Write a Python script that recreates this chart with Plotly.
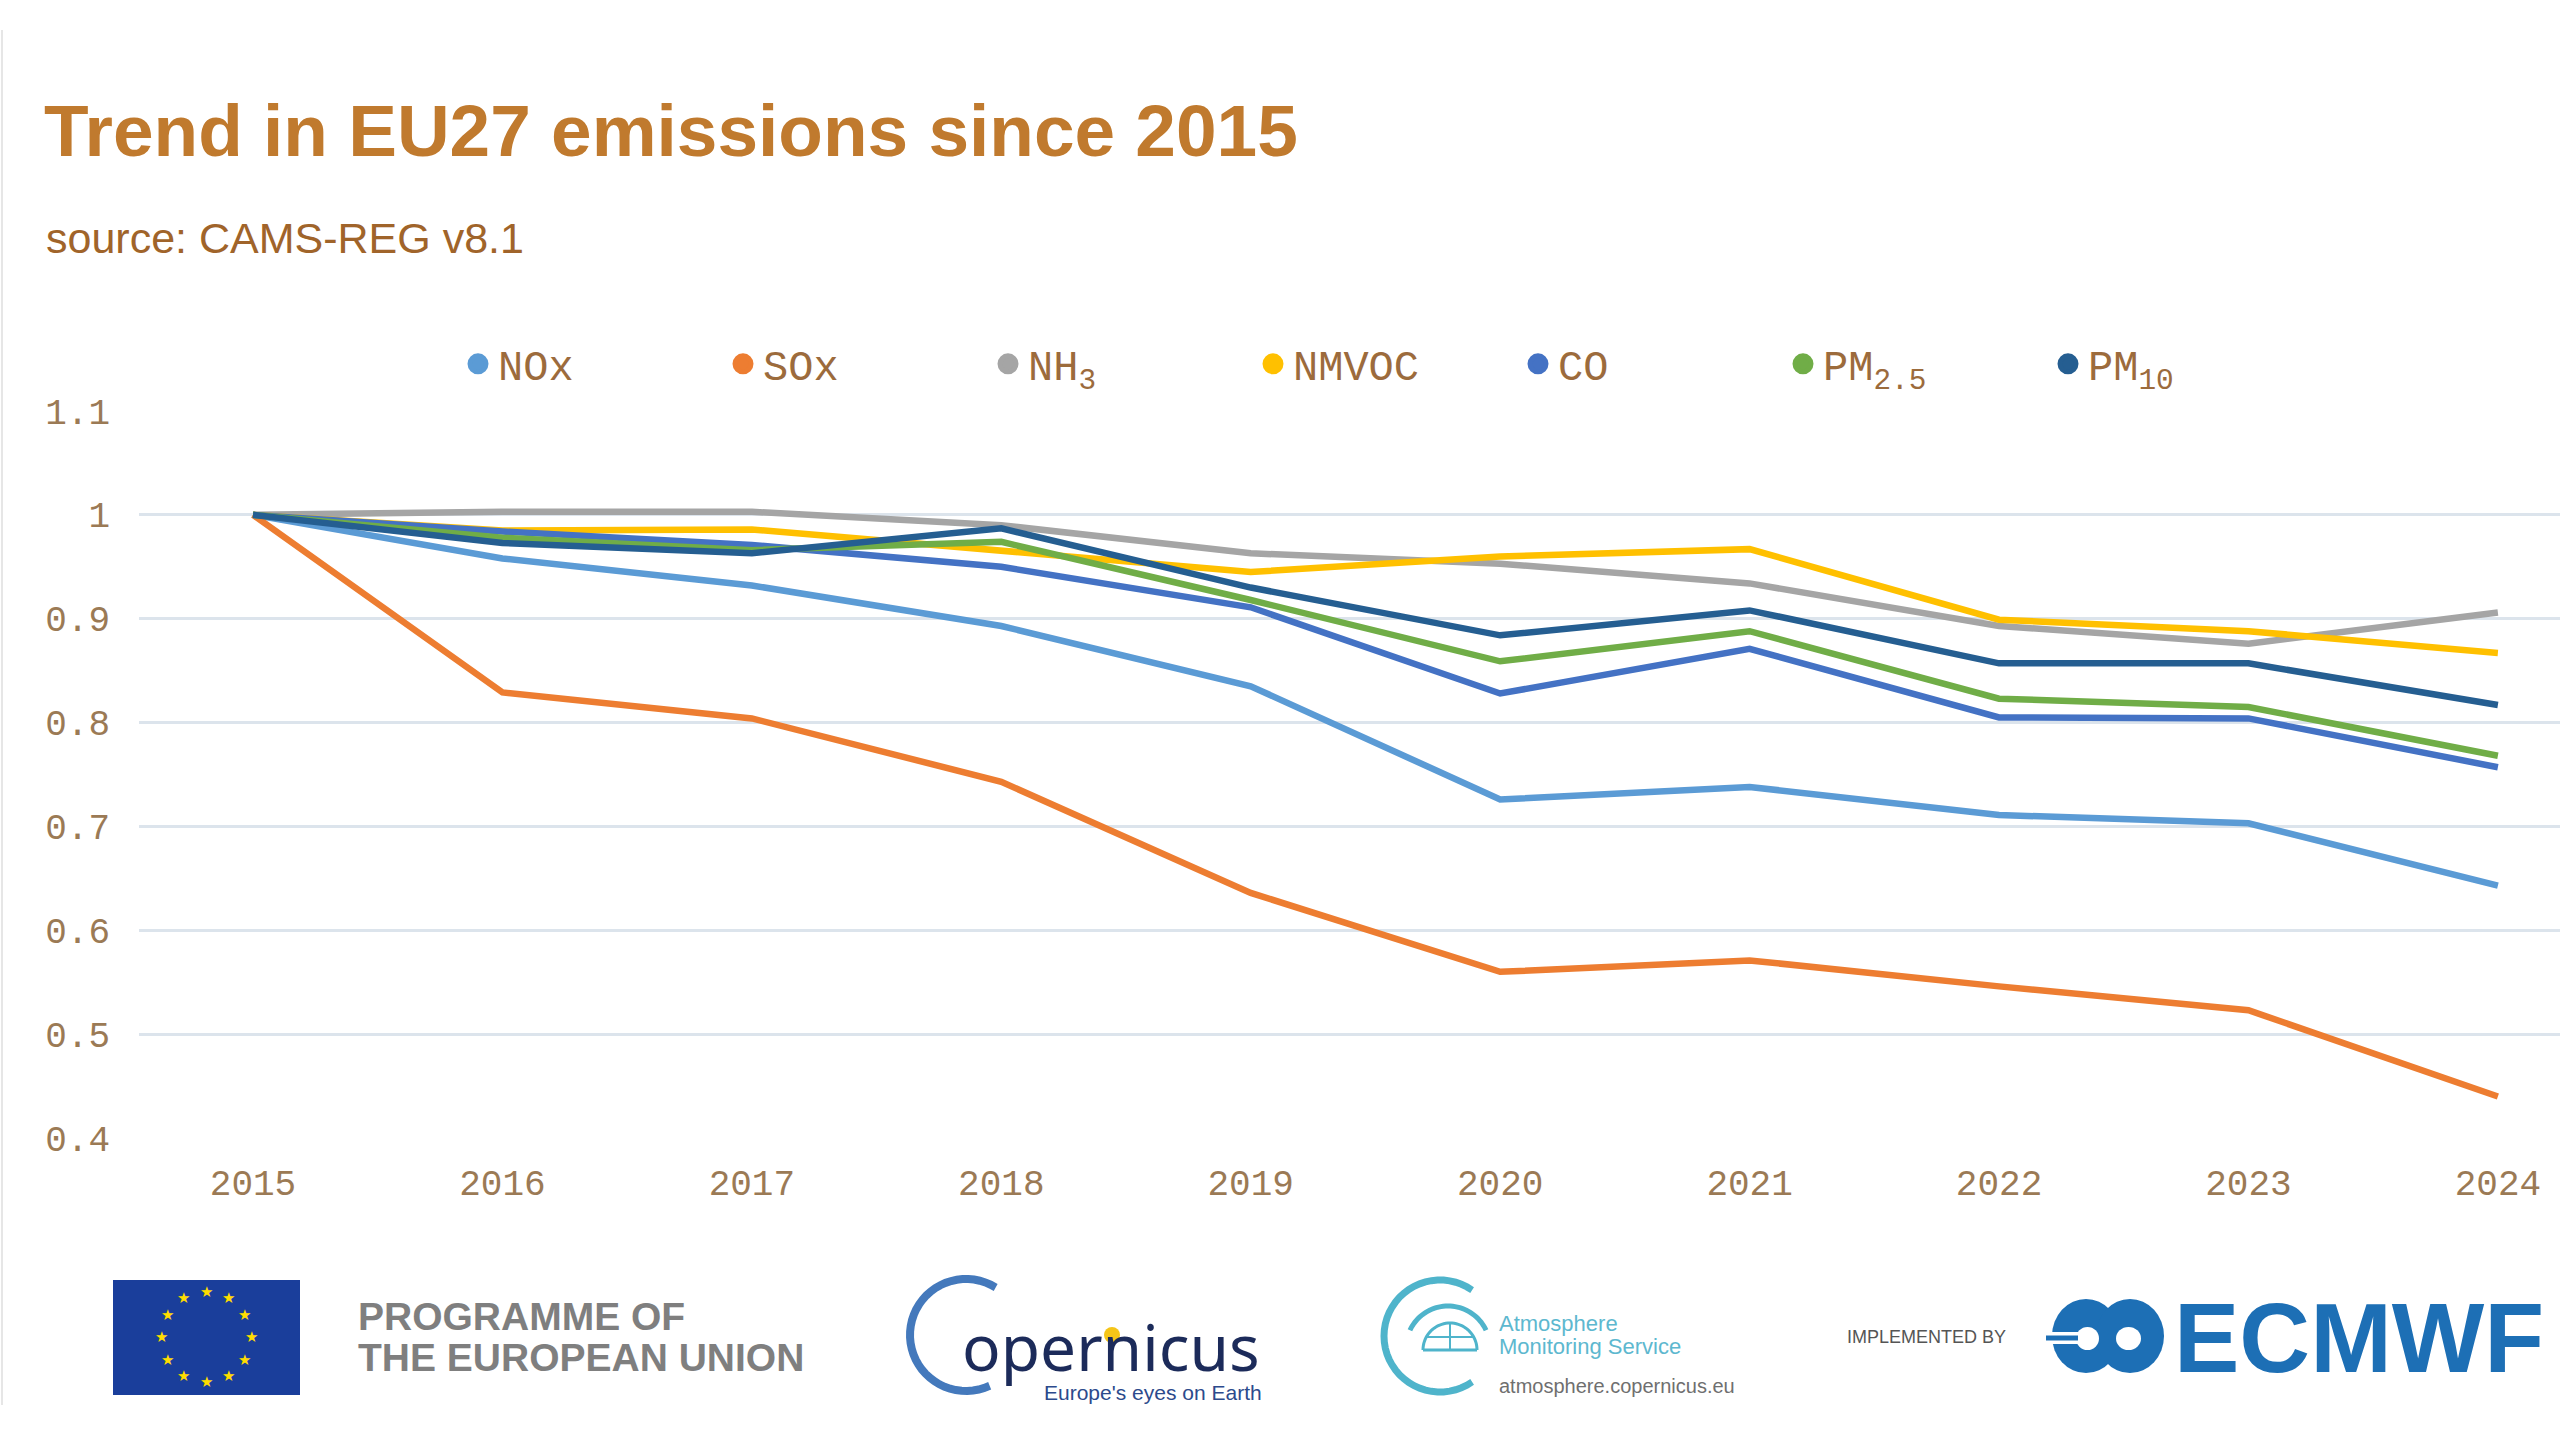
import math
import plotly.graph_objects as go

# values (index, 2015 = 1)
years = [2015, 2016, 2017, 2018, 2019, 2020, 2021, 2022, 2023, 2024]
nox = [1.0, 0.958, 0.932, 0.893, 0.835, 0.726, 0.738, 0.711, 0.703, 0.643]
sox = [1.0, 0.829, 0.804, 0.743, 0.636, 0.560, 0.571, 0.546, 0.523, 0.440]
nh3 = [1.0, 1.003, 1.003, 0.990, 0.963, 0.953, 0.934, 0.893, 0.876, 0.906]
nmvoc = [1.0, 0.985, 0.986, 0.965, 0.945, 0.960, 0.967, 0.899, 0.888, 0.867]
co = [1.0, 0.984, 0.971, 0.950, 0.911, 0.828, 0.871, 0.805, 0.804, 0.757]
pm25 = [1.0, 0.978, 0.966, 0.974, 0.918, 0.859, 0.888, 0.823, 0.815, 0.768]
pm10 = [1.0, 0.973, 0.963, 0.987, 0.930, 0.884, 0.908, 0.857, 0.857, 0.817]

names = ["NOx", "SOx", "NH<sub>3</sub>", "NMVOC", "CO", "PM<sub>2.5</sub>", "PM<sub>10</sub>"]
colors = ["#5B9BD5", "#ED7D31", "#A5A5A5", "#FFC000", "#4472C4", "#70AD47", "#255E91"]
series = [nox, sox, nh3, nmvoc, co, pm25, pm10]

ytick_vals = [0.4, 0.5, 0.6, 0.7, 0.8, 0.9, 1.0, 1.1]
ytick_text = ["0.4", "0.5", "0.6", "0.7", "0.8", "0.9", "1", "1.1"]

W, H = 2560, 1440
L, R, T, B = 139, 0, 411, 302
PW, PH = W - L - R, H - T - B


def px(x):
    return (x - L) / PW


def py(y):
    return (H - B - y) / PH


def arc_path(cx, cy, r, a0, a1, n=40):
    pts = []
    for i in range(n + 1):
        a = math.radians(a0 + (a1 - a0) * i / n)
        pts.append((px(cx + r * math.cos(a)), py(cy - r * math.sin(a))))
    return "M " + " L ".join(f"{x:.5f},{y:.5f}" for x, y in pts)


def oval(x0, x1, y0, y1, fill, line_w=0, line_c=None):
    return dict(type="circle", xref="paper", yref="paper", x0=px(x0), x1=px(x1), y0=py(y1), y1=py(y0),
                fillcolor=fill, line=dict(width=line_w, color=line_c or fill))


TICK_COLOR = "#9B7A55"
fig = go.Figure()

for name, col, vals in zip(names, colors, series):
    fig.add_trace(go.Scatter(
        x=years, y=vals, mode="lines", name=name, legendgroup=name,
        showlegend=False, line=dict(color=col, width=6.5),
        hovertemplate="%{x}: %{y:.3f}<extra>" + name + "</extra>",
    ))
    # round legend symbol like the original
    fig.add_trace(go.Scatter(
        x=[None], y=[None], mode="markers", name=name, legendgroup=name,
        marker=dict(symbol="circle", size=22, color=col, line=dict(color=col, width=5)),
    ))

fig.update_layout(
    width=W, height=H,
    margin=dict(l=L, r=R, t=T, b=B),
    paper_bgcolor="white", plot_bgcolor="white",
    title=dict(
        text="<b>Trend in EU27 emissions since 2015</b>",
        xref="container", x=44 / W, xanchor="left",
        yref="container", y=1 - 130 / H, yanchor="middle",
        font=dict(family="Liberation Sans", size=73, color="#C07A2E"),
    ),
    legend=dict(
        orientation="h", x=px(458), xanchor="left", y=py(364), yanchor="middle",
        font=dict(family="Liberation Mono", size=42, color="#9C6B3C"),
        bgcolor="rgba(0,0,0,0)", itemwidth=30,
        entrywidth=220, entrywidthmode="pixels",
    ),
    showlegend=True,
)

fig.update_xaxes(
    range=[2014.543, 2024.249], tickvals=years, ticktext=[str(y) for y in years],
    showgrid=False, zeroline=False, showline=False,
    ticklabelstandoff=20,
    tickfont=dict(family="Liberation Mono", size=36, color=TICK_COLOR),
)
fig.update_yaxes(
    range=[0.4, 1.1], tickvals=ytick_vals, ticktext=ytick_text,
    showgrid=True, gridcolor="#DCE4EC", gridwidth=2.5,
    zeroline=False, showline=False, ticklabelstandoff=28,
    tickfont=dict(family="Liberation Mono", size=36, color=TICK_COLOR),
)

ann = []
ann.append(dict(text="source: CAMS-REG v8.1", x=px(44), y=py(238), xanchor="left", yanchor="middle",
                font=dict(family="Liberation Sans", size=43, color="#A0642A")))

# footer: EU flag
shapes = []
shapes.append(dict(type="rect", xref="paper", yref="paper", x0=px(113), x1=px(300), y0=py(1395), y1=py(1280),
                   fillcolor="#1A3E9B", line=dict(width=0)))
for k in range(12):
    a = math.radians(90 - 30 * k)
    ann.append(dict(text="★", x=px(206 + 45 * math.cos(a)), y=py(1337 - 45 * math.sin(a)),
                    xanchor="center", yanchor="middle",
                    font=dict(family="DejaVu Sans", size=15, color="#FFDD00")))
ann.append(dict(text="<b>PROGRAMME OF</b>", x=px(356), y=py(1316), xanchor="left", yanchor="middle",
                font=dict(family="Liberation Sans", size=39, color="#7F7F7F")))
ann.append(dict(text="<b>THE EUROPEAN UNION</b>", x=px(356), y=py(1357), xanchor="left", yanchor="middle",
                font=dict(family="Liberation Sans", size=39, color="#7F7F7F")))

# copernicus
shapes.append(dict(type="path", xref="paper", yref="paper", path=arc_path(966, 1335, 56, 58, 295),
                   line=dict(color="#4479BC", width=8)))
ann.append(dict(text="opernicus", x=px(960), y=py(1346), xanchor="left", yanchor="middle",
                font=dict(family="Noto Sans", size=64, color="#1C2B5A")))
shapes.append(oval(1104, 1120, 1327, 1343, "#F5C518"))
ann.append(dict(text="Europe's eyes on Earth", x=px(1264), y=py(1392), xanchor="right", yanchor="middle",
                font=dict(family="Liberation Sans Narrow, Liberation Sans", size=21, color="#2C4A8C")))

# atmosphere monitoring service
teal = "#4FB4CB"
shapes.append(dict(type="path", xref="paper", yref="paper", path=arc_path(1440, 1336, 56, 55, 305),
                   line=dict(color=teal, width=7)))
shapes.append(dict(type="path", xref="paper", yref="paper", path=arc_path(1448, 1348, 42, 25, 155),
                   line=dict(color=teal, width=5)))
shapes.append(dict(type="path", xref="paper", yref="paper", path=arc_path(1450, 1350, 27, 0, 180),
                   line=dict(color=teal, width=3)))
shapes.append(dict(type="line", xref="paper", yref="paper", x0=px(1423), x1=px(1477), y0=py(1350), y1=py(1350),
                   line=dict(color=teal, width=3)))
shapes.append(dict(type="line", xref="paper", yref="paper", x0=px(1427), x1=px(1473), y0=py(1337), y1=py(1337),
                   line=dict(color=teal, width=2)))
shapes.append(dict(type="line", xref="paper", yref="paper", x0=px(1450), x1=px(1450), y0=py(1323), y1=py(1350),
                   line=dict(color=teal, width=2)))
ann.append(dict(text="Atmosphere", x=px(1497), y=py(1323), xanchor="left", yanchor="middle",
                font=dict(family="Liberation Sans", size=22, color="#5DB8CF")))
ann.append(dict(text="Monitoring Service", x=px(1497), y=py(1346), xanchor="left", yanchor="middle",
                font=dict(family="Liberation Sans", size=22, color="#5DB8CF")))
ann.append(dict(text="atmosphere.copernicus.eu", x=px(1497), y=py(1386), xanchor="left", yanchor="middle",
                font=dict(family="Liberation Sans Narrow, Liberation Sans", size=20, color="#6F6F6F")))

# ECMWF
blue = "#1D6FB5"
ann.append(dict(text="IMPLEMENTED BY", x=px(1845), y=py(1337), xanchor="left", yanchor="middle",
                font=dict(family="Liberation Sans Narrow, Liberation Sans", size=18, color="#555555")))
shapes.append(oval(2052, 2120, 1299, 1373, blue))
shapes.append(oval(2096, 2164, 1299, 1373, blue))
shapes.append(oval(2076, 2099, 1327, 1350, "white"))
shapes.append(oval(2116, 2141, 1327, 1350, "white"))
shapes.append(dict(type="rect", xref="paper", yref="paper", x0=px(2040), x1=px(2086), y0=py(1344), y1=py(1332),
                   fillcolor="white", line=dict(width=0)))
shapes.append(dict(type="line", xref="paper", yref="paper", x0=px(2046), x1=px(2078), y0=py(1338), y1=py(1338),
                   line=dict(color=blue, width=5)))
ann.append(dict(text="<b>ECMWF</b>", x=px(2172), y=py(1338), xanchor="left", yanchor="middle",
                font=dict(family="Liberation Sans", size=98, color=blue)))

# thin slide edge on the left
shapes.append(dict(type="line", xref="paper", yref="paper", x0=px(2), x1=px(2), y0=py(30), y1=py(1405),
                   line=dict(color="#E6E6E6", width=2)))

for a in ann:
    a.update(xref="paper", yref="paper", showarrow=False)
fig.update_layout(annotations=ann, shapes=shapes)

fig.write_html("out.html", config={"displayModeBar": False},
               post_script="document.body.style.margin='0';")
